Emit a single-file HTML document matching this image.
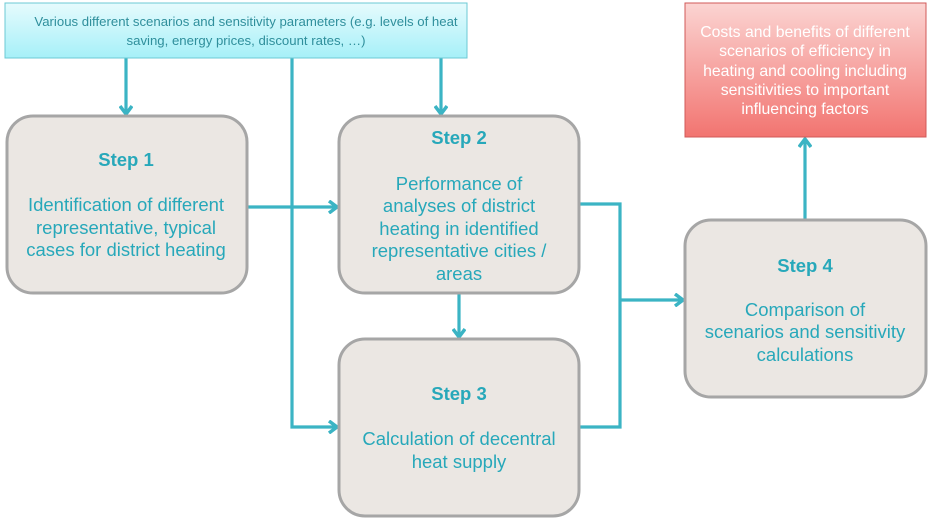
<!DOCTYPE html>
<html><head><meta charset="utf-8"><style>
body{margin:0;background:#fff}
svg text{font-family:"Liberation Sans",sans-serif}
</style></head><body>
<svg width="932" height="518" viewBox="0 0 932 518" xmlns="http://www.w3.org/2000/svg">
<defs>
<linearGradient id="cy" x1="0" y1="0" x2="0" y2="1"><stop offset="0" stop-color="#e6fbfd"/><stop offset="1" stop-color="#a6f0f8"/></linearGradient>
<linearGradient id="rd" x1="0" y1="0" x2="0" y2="1"><stop offset="0" stop-color="#fbd4d2"/><stop offset="1" stop-color="#f27470"/></linearGradient>
<marker id="ah" markerWidth="14" markerHeight="14" refX="10" refY="7" orient="auto" markerUnits="userSpaceOnUse"><path d="M2,1 L10,7 L2,13" fill="none" stroke="#3bb4c4" stroke-width="3.5"/></marker>
</defs>
<g fill="none" stroke="#3bb4c4" stroke-width="3.2">
<path d="M126,58 V114" marker-end="url(#ah)"/>
<path d="M441,58 V114" marker-end="url(#ah)"/>
<path d="M292,58 V427 H337" marker-end="url(#ah)"/>
<path d="M247,207 H337" marker-end="url(#ah)"/>
<path d="M459,293 V337" marker-end="url(#ah)"/>
<path d="M579,204 H620 V427 H579"/>
<path d="M620,300 H683" marker-end="url(#ah)"/>
<path d="M805,220 V139" marker-end="url(#ah)"/>
</g>
<rect x="5" y="3" width="462" height="55" fill="url(#cy)" stroke="#6cc9d4" stroke-width="1"/>
<text fill="#2f8f9c" font-size="13.2" text-anchor="middle"><tspan x="246" y="26">Various different scenarios and sensitivity parameters (e.g. levels of heat</tspan><tspan x="246" y="45">saving, energy prices, discount rates, …)</tspan></text>
<rect x="685" y="3" width="241" height="134" fill="url(#rd)" stroke="#d05a58" stroke-width="1"/>
<text fill="#fff" font-size="15.8" text-anchor="middle"><tspan x="805" y="37">Costs and benefits of different</tspan><tspan x="805" y="56">scenarios of efficiency in</tspan><tspan x="805" y="76">heating and cooling including</tspan><tspan x="805" y="95">sensitivities to important</tspan><tspan x="805" y="114">influencing factors</tspan></text>
<g fill="#ebe7e3" stroke="#a6a6a6" stroke-width="3">
<rect x="7" y="116" width="240" height="177" rx="26"/>
<rect x="339" y="116" width="240" height="177" rx="26"/>
<rect x="339" y="339" width="240" height="177" rx="26"/>
<rect x="685" y="220" width="241" height="177" rx="26"/>
</g>
<g fill="#27a8ba" font-size="18.5" text-anchor="middle">
<text x="126" y="166" font-weight="bold">Step 1</text>
<text><tspan x="126" y="211">Identification of different</tspan><tspan x="126" y="234">representative, typical</tspan><tspan x="126" y="256">cases for district heating</tspan></text>
<text x="459" y="144" font-weight="bold">Step 2</text>
<text><tspan x="459" y="190">Performance of</tspan><tspan x="459" y="212">analyses of district</tspan><tspan x="459" y="235">heating in identified</tspan><tspan x="459" y="257">representative cities /</tspan><tspan x="459" y="280">areas</tspan></text>
<text x="459" y="400" font-weight="bold">Step 3</text>
<text><tspan x="459" y="445">Calculation of decentral</tspan><tspan x="459" y="468">heat supply</tspan></text>
<text x="805" y="272" font-weight="bold">Step 4</text>
<text><tspan x="805" y="316">Comparison of</tspan><tspan x="805" y="338">scenarios and sensitivity</tspan><tspan x="805" y="361">calculations</tspan></text>
</g>
</svg>
</body></html>
